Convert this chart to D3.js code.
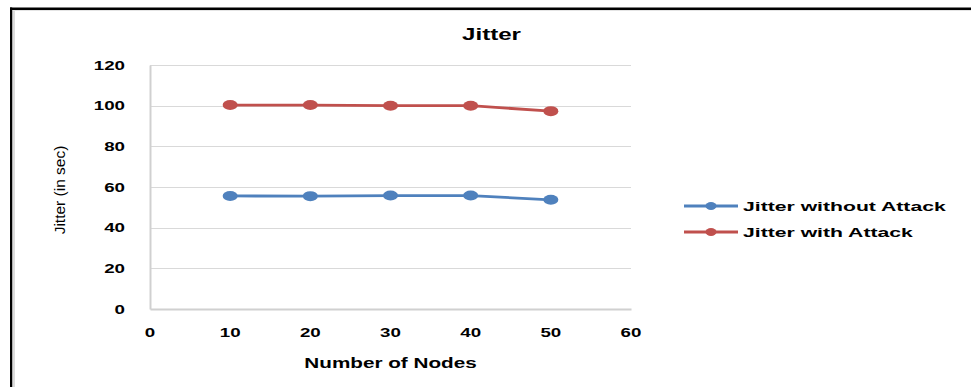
<!DOCTYPE html>
<html><head><meta charset="utf-8">
<script src="https://cdn.jsdelivr.net/npm/d3@7"></script>
<style>html,body{margin:0;padding:0;background:#fff;}svg{display:block;}</style>
</head><body>
<svg id="chart" width="971" height="387"></svg>
<script>
const nodes = [10, 20, 30, 40, 50];
const jitterWithoutAttack = [55.6, 55.5, 55.8, 55.8, 53.7];
const jitterWithAttack = [100.3, 100.3, 100.0, 100.0, 97.3];
const seriesNames = ["Jitter without Attack", "Jitter with Attack"];
const seriesColors = ["#4F81BD", "#C0504D"];
const xTicks = [0, 10, 20, 30, 40, 50, 60];
const yTicks = [0, 20, 40, 60, 80, 100, 120];
const titleText = "Jitter";
const xTitle = "Number of Nodes";
const yTitle = "Jitter (in sec)";

const svg = d3.select("#chart");
const font = "'Liberation Sans', Arial, sans-serif";

// frame
svg.append("rect").attr("x", 12).attr("y", 10).attr("width", 3).attr("height", 377).attr("fill", "#dcdcdc");
svg.append("rect").attr("x", 12).attr("y", 10).attr("width", 959).attr("height", 1).attr("fill", "#e4e4e4");
svg.append("rect").attr("x", 10).attr("y", 7.5).attr("width", 961).attr("height", 2.5).attr("fill", "#000");
svg.append("rect").attr("x", 10).attr("y", 7.5).attr("width", 2.2).attr("height", 380).attr("fill", "#000");

const x = d3.scaleLinear().domain([0, 60]).range([150, 631]);
const y = d3.scaleLinear().domain([0, 120]).range([309, 65]);

function stext(g, tx, ty, str, opts) {
  const t = g.append("text")
    .attr("transform", `translate(${tx},${ty}) scale(${opts.sx || 1},1)`)
    .attr("font-family", font)
    .attr("font-size", opts.size)
    .attr("font-weight", opts.weight || "bold")
    .attr("text-anchor", opts.anchor || "start")
    .attr("fill", opts.fill || "#000")
    .text(str);
  return t;
}

// gridlines
svg.append("g").selectAll("line").data(yTicks.filter(d => d > 0)).join("line")
  .attr("x1", x(0)).attr("x2", x(60))
  .attr("y1", d => Math.round(y(d)) + 0.5).attr("y2", d => Math.round(y(d)) + 0.5)
  .attr("stroke", "#d9d9d9").attr("stroke-width", 1);

// axes lines using d3 axes (no ticks)
const xAxis = svg.append("g").attr("transform", `translate(0,${y(0)})`)
  .call(d3.axisBottom(x).tickValues(xTicks).tickSize(0).tickFormat(""));
xAxis.select(".domain").attr("stroke", "#d0d0d0").attr("stroke-width", 2);
const yAxis = svg.append("g").attr("transform", `translate(${x(0)},0)`)
  .call(d3.axisLeft(y).tickValues(yTicks).tickSize(0).tickFormat(""));
yAxis.select(".domain").attr("stroke", "#d0d0d0").attr("stroke-width", 2);

// tick labels
const lab = svg.append("g");
yTicks.forEach(d => stext(lab, 125, y(d) + 4.5, String(d), {size: 12.5, sx: 1.5, anchor: "end"}));
xTicks.forEach(d => stext(lab, x(d), 337, String(d), {size: 12.5, sx: 1.5, anchor: "middle"}));

// titles
stext(svg, 491.5, 40, titleText, {size: 17, sx: 1.42, anchor: "middle"});
stext(svg, 390.5, 368, xTitle, {size: 15, sx: 1.38, anchor: "middle"});
svg.append("text")
  .attr("transform", "translate(65,190) rotate(-90)")
  .attr("font-family", font).attr("font-size", 15.5)
  .attr("text-anchor", "middle").attr("fill", "#000")
  .text(yTitle);

// series
const allSeries = [jitterWithoutAttack, jitterWithAttack];
const line = d3.line().x((d, i) => x(nodes[i])).y(d => y(d));
allSeries.forEach((vals, si) => {
  const g = svg.append("g");
  g.append("path").datum(vals).attr("d", line)
    .attr("fill", "none").attr("stroke", seriesColors[si]).attr("stroke-width", 2.8);
  g.selectAll("ellipse").data(vals).join("ellipse")
    .attr("cx", (d, i) => x(nodes[i])).attr("cy", d => y(d))
    .attr("rx", 7.5).attr("ry", 5).attr("fill", seriesColors[si]);
});

// legend
const legY = [206, 232];
seriesNames.forEach((name, i) => {
  const g = svg.append("g");
  g.append("line").attr("x1", 684).attr("x2", 738).attr("y1", legY[i]).attr("y2", legY[i])
    .attr("stroke", seriesColors[i]).attr("stroke-width", 2.8);
  g.append("ellipse").attr("cx", 711).attr("cy", legY[i]).attr("rx", 5.5).attr("ry", 4)
    .attr("fill", seriesColors[i]);
  stext(g, 743, legY[i] + 5, name, {size: 13.5, sx: 1.57});
});
</script>
</body></html>
